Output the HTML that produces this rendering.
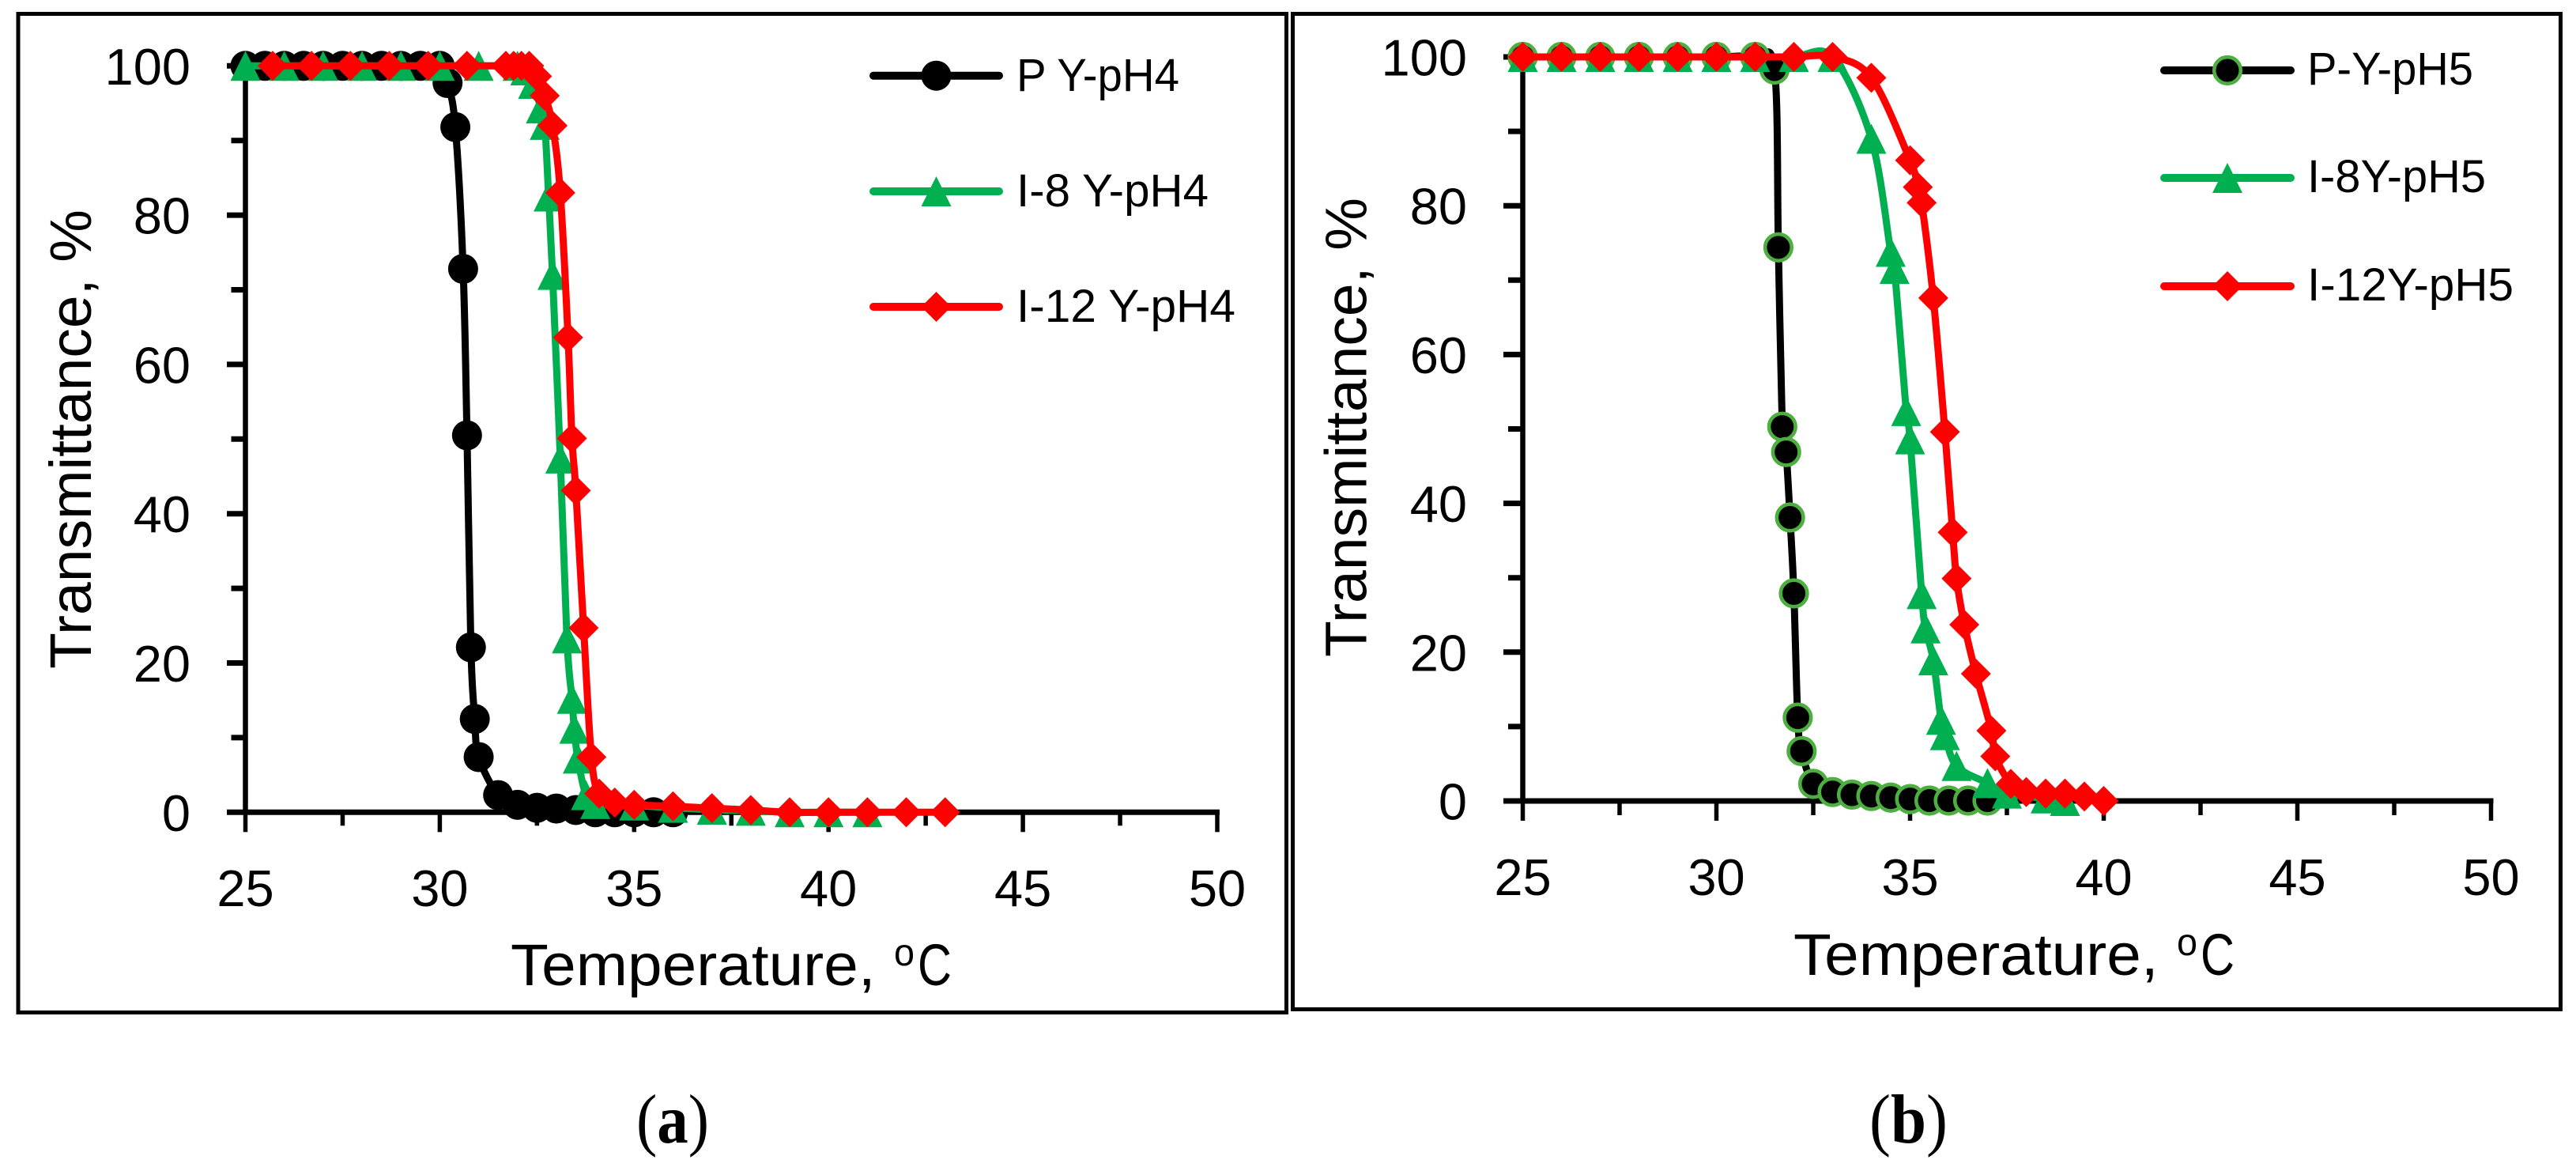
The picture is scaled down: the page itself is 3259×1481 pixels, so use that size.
<!DOCTYPE html>
<html>
<head>
<meta charset="utf-8">
<title>Transmittance vs Temperature</title>
<style>
html,body{margin:0;padding:0;background:#fff;}
svg{display:block;}
text{font-family:"Liberation Sans",sans-serif;fill:#000;}
</style>
</head>
<body>
<svg id="chart" xmlns="http://www.w3.org/2000/svg" width="3259" height="1481" viewBox="0 0 3259 1481"></svg>
<script>
/* ---------- shared axis data ---------- */
const xTickValues = [25, 30, 35, 40, 45, 50];
const xTickLabels = ['25', '30', '35', '40', '45', '50'];
const yTickValues = [0, 20, 40, 60, 80, 100];
const yTickLabels = ['0', '20', '40', '60', '80', '100'];

/* ---------- panel (a) pH4 data ---------- */
const pY4Temp = [25,25.5,26,26.5,27,27.5,28,28.5,29,29.5,30,30.2,30.4,30.6,30.7,30.8,30.9,31,31.5,32,32.5,33,33.5,34,34.5,35,35.5,36];
const pY4Trans = [100,100,100,100,100,100,100,100,100,100,100,97.7,91.8,72.8,50.5,22.1,12.5,7.4,2.3,1,0.6,0.5,0.3,0,0,0,0,0];
const i8Y4Temp = [25,26,27,28,29,30,31,32,32.2,32.4,32.6,32.7,32.8,32.9,33.1,33.27,33.4,33.46,33.55,33.76,34,35,36,37,38,39,40,41];
const i8Y4Trans = [100,100,100,100,100,100,100,100,99.4,97.6,94.3,92.1,82.5,72,47.4,23.3,15.2,11.2,7.2,2.3,1.1,0.9,0.6,0.35,0.2,0,0,0];
const i12Y4Temp = [25.7,26.7,27.7,28.7,29.7,30.7,31.7,31.9,32.1,32.3,32.5,32.7,32.9,33.1,33.3,33.4,33.5,33.7,33.9,34.1,34.5,35,36,37,38,39,40,41,42,43];
const i12Y4Trans = [100,100,100,100,100,100,100,100,100,100,98.6,96,92,83,63.6,50.1,43.1,24.7,7.4,2.5,1.3,1,0.8,0.55,0.3,0,0,0,0,0];
const legend4Labels = ['P Y-pH4', 'I-8 Y-pH4', 'I-12 Y-pH4'];

/* ---------- panel (b) pH5 data ---------- */
const pY5Temp = [25,26,27,28,29,30,31,31.5,31.6,31.7,31.8,31.9,32,32.1,32.2,32.5,33,33.5,34,34.5,35,35.5,36,36.5,37];
const pY5Trans = [100,100,100,100,100,100,100,98.3,74.4,50.3,46.9,38.1,27.9,11.2,6.7,2.3,1.2,0.85,0.67,0.45,0.25,0.05,0.05,0.05,0.05];
const i8Y5Temp = [25,26,27,28,29,30,31,32,33,34,34.5,34.6,34.9,35,35.3,35.4,35.6,35.8,35.9,36.2,37,37.5,38.5,39];
const i8Y5Trans = [100,100,100,100,100,100,100,100,100,89,73.8,71.5,52.4,48.6,27.8,23.2,18.9,10.9,8.85,4.7,2.4,1,0.35,0];
const i12Y5Temp = [25,26,27,28,29,30,31,32,33,34,35,35.2,35.3,35.6,35.9,36.1,36.2,36.4,36.7,37.1,37.2,37.6,38,38.5,39,39.5,40];
const i12Y5Trans = [100,100,100,100,100,100,100,100,100,97.2,86.1,82.5,80.4,67.6,49.6,36.1,29.9,23.7,17.1,9.45,6,2.3,1.2,1,1,0.6,0];
const legend5Labels = ['P-Y-pH5', 'I-8Y-pH5', 'I-12Y-pH5'];

/* ---------- drawing ---------- */
const NS = 'http://www.w3.org/2000/svg';
const svg = document.getElementById('chart');
const BLACK = '#000000', GREEN = '#00B050', RED = '#FF0000', RING = '#4CAF3F';

function mk(tag, parent) {
  const el = document.createElementNS(NS, tag);
  parent.appendChild(el);
  return el;
}
function setA(el, o) { for (const k in o) el.setAttribute(k, o[k]); }

function linePath(xs, ys) {
  /* Excel-like smoothed line through the points */
  let d = 'M' + xs[0].toFixed(2) + ' ' + ys[0].toFixed(2);
  const n = xs.length;
  for (let i = 0; i < n - 1; i++) {
    const a = Math.max(i - 1, 0), b = Math.min(i + 2, n - 1);
    const c1x = xs[i] + (xs[i + 1] - xs[a]) / 6, c1y = ys[i] + (ys[i + 1] - ys[a]) / 6;
    const c2x = xs[i + 1] - (xs[b] - xs[i]) / 6, c2y = ys[i + 1] - (ys[b] - ys[i]) / 6;
    d += 'C' + c1x.toFixed(2) + ' ' + c1y.toFixed(2) + ' ' + c2x.toFixed(2) + ' ' + c2y.toFixed(2) + ' ' + xs[i + 1].toFixed(2) + ' ' + ys[i + 1].toFixed(2);
  }
  return d;
}

function drawMarker(parent, kind, cx, cy) {
  let m;
  if (kind === 'circle') {
    m = mk('circle', parent);
    setA(m, {cx: cx, cy: cy, r: 19, fill: BLACK});
  } else if (kind === 'ring') {
    m = mk('circle', parent);
    setA(m, {cx: cx, cy: cy, r: 16.8, fill: BLACK, stroke: RING, 'stroke-width': 4.6});
  } else if (kind === 'triangle') {
    m = mk('polygon', parent);
    setA(m, {points: cx + ',' + (cy - 19) + ' ' + (cx + 19) + ',' + (cy + 19) + ' ' + (cx - 19) + ',' + (cy + 19), fill: GREEN});
  } else {
    m = mk('polygon', parent);
    setA(m, {points: cx + ',' + (cy - 19) + ' ' + (cx + 19) + ',' + cy + ' ' + cx + ',' + (cy + 19) + ' ' + (cx - 19) + ',' + cy, fill: RED});
  }
  return m;
}

function drawSeries(parent, seriesName, temps, trans, color, kind, xPos, yPos) {
  const g = mk('g', parent);
  
  
  const xs = temps.map(xPos), ys = trans.map(yPos);
  const line = mk('path', g);
  
  
  setA(line, {d: linePath(xs, ys), fill: 'none', stroke: color, 'stroke-width': 9, 'stroke-linejoin': 'round'});
  xs.forEach(function (x, i) {
    const m = drawMarker(g, kind, x, ys[i]);
    
    
  });
}

function drawText(parent, str, x, y, size, len, anchor) {
  const t = mk('text', parent);
  t.textContent = str;
  setA(t, {x: x, y: y, 'font-size': size});
  if (anchor) t.setAttribute('text-anchor', anchor);
  if (len) { t.setAttribute('textLength', len); t.setAttribute('lengthAdjust', 'spacingAndGlyphs'); }
  return t;
}

function drawPanel(p) {
  const root = mk('g', svg);
  
  

  const frame = mk('rect', root);
  
  
  setA(frame, {x: p.fx0, y: p.fy0, width: p.fx1 - p.fx0, height: p.fy1 - p.fy0, fill: 'none', stroke: '#000', 'stroke-width': 5});

  const xPos = function (v) { return p.x0 + (v - 25) * (p.x1 - p.x0) / 25; };
  const yPos = function (v) { return p.y0 + (p.y100 - p.y0) * v / 100; };

  /* axes */
  const axes = mk('g', root);
  
  

  function rule(x1, y1, x2, y2, w, name) {
    const l = mk('line', axes);
    
    
    setA(l, {x1: x1, y1: y1, x2: x2, y2: y2, stroke: '#000', 'stroke-width': w});
  }
  rule(p.x0, p.y100, p.x0, p.y0 + 3, 6.5, 'y-axis-line');
  rule(p.x0 - 3, p.y0, p.x1 + 3, p.y0, 7, 'x-axis-line');

  xTickValues.forEach(function (v, i) {
    const x = xPos(v);
    rule(x, p.y0, x, p.y0 + p.xMajor, 5.5, 'x-major-tick');
    if (i < xTickValues.length - 1) {
      const mx = xPos((v + xTickValues[i + 1]) / 2);
      rule(mx, p.y0, mx, p.y0 + p.xMinor, 5.5, 'x-minor-tick');
    }
    const t = drawText(axes, xTickLabels[i], x, p.xLabelY, 65, 0, 'middle');
    
    
  });
  yTickValues.forEach(function (v, i) {
    const y = yPos(v);
    rule(p.x0 - p.yMajor, y, p.x0, y, 7, 'y-major-tick');
    if (i < yTickValues.length - 1) {
      const my = yPos((v + yTickValues[i + 1]) / 2);
      rule(p.x0 - p.yMinor, my, p.x0, my, 7, 'y-minor-tick');
    }
    const t = drawText(axes, yTickLabels[i], p.yLabelX, y + 23.5, 65, 0, 'end');
    
    
  });

  /* axis titles */
  const xTitle = mk('g', root);
  
  
  drawText(xTitle, 'Temperature,', p.titleX, p.titleY, 74, 461.6);
  drawText(xTitle, 'o', p.titleX + 485, p.titleY - 25, 48, 26);
  drawText(xTitle, 'C', p.titleX + 515, p.titleY, 74, 43);

  const yTitle = drawText(root, 'Transmittance, %', 0, 0, 74, 581);
  
  
  yTitle.setAttribute('transform', 'translate(' + p.yTitleX + ' ' + p.yTitleY + ') rotate(-90)');

  /* series */
  p.series.forEach(function (s) {
    drawSeries(root, s.name, s.temps, s.trans, s.color, s.kind, xPos, yPos);
  });

  /* legend */
  const legend = mk('g', root);
  
  
  p.series.forEach(function (s, i) {
    const item = mk('g', legend);
    
    
    const y = p.legY[i];
    const l = mk('line', item);
    
    
    setA(l, {x1: p.legX0 + 5, y1: y, x2: p.legX1 - 5, y2: y, stroke: s.color, 'stroke-width': 10, 'stroke-linecap': 'round'});
    const m = drawMarker(item, s.kind, (p.legX0 + p.legX1) / 2, y);
    
    
    const t = drawText(item, p.legendLabels[i], p.legTextX, y + p.legBase[i], 58, p.legLen[i]);
    
    
  });

  /* caption */
  const cap = mk('text', root);
  
  
  setA(cap, {x: p.capX, y: 1445, 'font-size': 88, textLength: p.capLen, lengthAdjust: 'spacingAndGlyphs'});
  cap.style.fontFamily = '"Liberation Serif",serif';
  const c1 = mk('tspan', cap); c1.textContent = '(';
  const c2 = mk('tspan', cap); c2.textContent = p.capLetter; c2.setAttribute('font-weight', 'bold');
  const c3 = mk('tspan', cap); c3.textContent = ')';
}

drawPanel({
  name: 'panel-a', capLetter: 'a', capX: 805, capLen: 92,
  fx0: 23, fy0: 17.5, fx1: 1627.5, fy1: 1280.5,
  x0: 310.5, x1: 1540, y0: 1027.3, y100: 83.3,
  xMajor: 25, xMinor: 17, yMajor: 23.5, yMinor: 18,
  xLabelY: 1146, yLabelX: 241,
  titleX: 646, titleY: 1246, yTitleX: 115, yTitleY: 846,
  legX0: 1100, legX1: 1269, legY: [95.7, 242, 388], legBase: [19.3, 19, 19],
  legTextX: 1286, legLen: [206, 243, 277], legendLabels: legend4Labels,
  series: [
    {name: 'p-y-ph4', temps: pY4Temp, trans: pY4Trans, color: BLACK, kind: 'circle'},
    {name: 'i-8-y-ph4', temps: i8Y4Temp, trans: i8Y4Trans, color: GREEN, kind: 'triangle'},
    {name: 'i-12-y-ph4', temps: i12Y4Temp, trans: i12Y4Trans, color: RED, kind: 'diamond'}
  ]
});

drawPanel({
  name: 'panel-b', capLetter: 'b', capX: 2365, capLen: 99,
  fx0: 1635.5, fy0: 17.5, fx1: 3239.5, fy1: 1276.5,
  x0: 1926.5, x1: 3151.5, y0: 1013, y100: 72,
  xMajor: 25, xMinor: 18, yMajor: 24.5, yMinor: 18.5,
  xLabelY: 1132, yLabelX: 1856,
  titleX: 2269, titleY: 1233, yTitleX: 1728.6, yTitleY: 831,
  legX0: 2733, legX1: 2903, legY: [89, 225, 362], legBase: [18, 18, 18],
  legTextX: 2919, legLen: [210, 226, 261], legendLabels: legend5Labels,
  series: [
    {name: 'p-y-ph5', temps: pY5Temp, trans: pY5Trans, color: BLACK, kind: 'ring'},
    {name: 'i-8y-ph5', temps: i8Y5Temp, trans: i8Y5Trans, color: GREEN, kind: 'triangle'},
    {name: 'i-12y-ph5', temps: i12Y5Temp, trans: i12Y5Trans, color: RED, kind: 'diamond'}
  ]
});
</script>
</body>
</html>
